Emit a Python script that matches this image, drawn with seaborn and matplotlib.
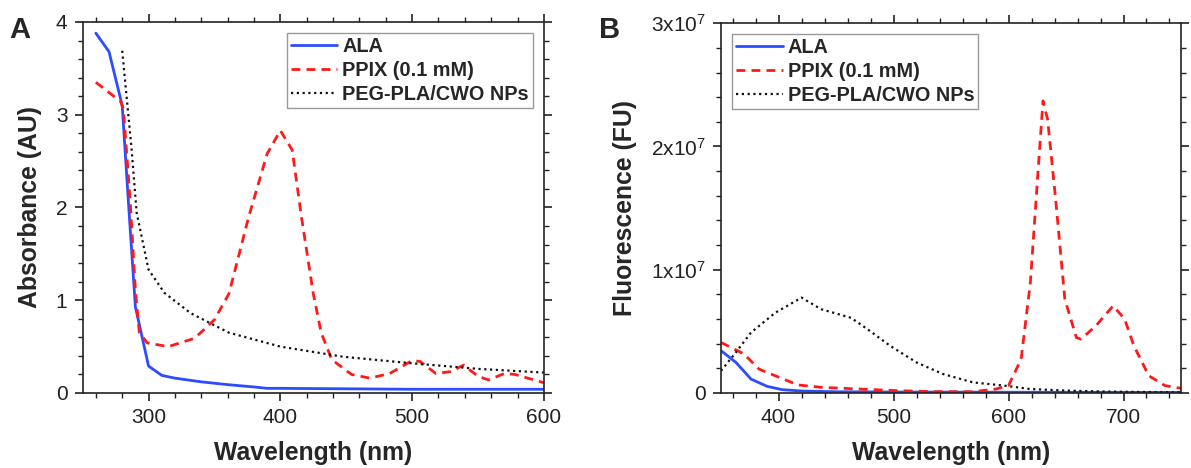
import numpy as np
import pandas as pd
import matplotlib
matplotlib.use("Agg")
import matplotlib.pyplot as plt
import seaborn as sns
from matplotlib.ticker import MultipleLocator, FuncFormatter

# ---------------- Data: Panel A (Absorbance) ----------------
a_ala_x = [260, 270, 280, 285, 290, 300, 310, 320, 340, 360, 380, 390, 400, 450, 500, 550, 600]
a_ala_y = [3.88, 3.68, 3.10, 2.00, 0.93, 0.29, 0.19, 0.16, 0.12, 0.09, 0.065, 0.05, 0.05, 0.045, 0.04, 0.04, 0.04]

a_ppix_x = [260, 279, 281, 286, 290, 293, 299, 315, 335, 350, 361, 376, 390, 400, 409, 416, 425, 431,
            439, 454, 468, 483, 500, 506, 518, 529, 539, 550, 558, 570, 578, 600]
a_ppix_y = [3.35, 3.14, 3.05, 2.08, 1.11, 0.65, 0.54, 0.50, 0.59, 0.79, 1.07, 1.90, 2.58, 2.83, 2.62, 1.90,
            1.07, 0.65, 0.36, 0.20, 0.16, 0.21, 0.35, 0.34, 0.21, 0.23, 0.30, 0.18, 0.14, 0.21, 0.20, 0.11]

a_peg_x = [280, 287, 291, 300, 312, 332, 361, 400, 448, 500, 550, 600]
a_peg_y = [3.69, 2.65, 1.94, 1.33, 1.08, 0.86, 0.65, 0.50, 0.39, 0.32, 0.26, 0.22]

# ---------------- Data: Panel B (Fluorescence) ----------------
b_ala_x = [350, 363, 376, 390, 403, 420, 450, 500, 600, 700, 750]
b_ala_y = [3.43e6, 2.48e6, 1.13e6, 0.54e6, 0.27e6, 0.16e6, 0.10e6, 0.08e6, 0.06e6, 0.05e6, 0.05e6]

b_ppix_x = [350, 370, 383, 397, 417, 437, 470, 503, 536, 569, 589, 600, 611, 619, 626, 630, 634, 641,
            649, 659, 663, 676, 691, 701, 709, 722, 736, 750]
b_ppix_y = [4.1e6, 3.16e6, 1.94e6, 1.4e6, 0.65e6, 0.46e6, 0.32e6, 0.19e6, 0.11e6, 0.10e6, 0.32e6, 0.6e6,
            2.75e6, 8.96e6, 18.4e6, 23.7e6, 22.2e6, 15.7e6, 7.6e6, 4.5e6, 4.37e6, 5.45e6, 7.07e6, 6.0e6,
            3.83e6, 1.4e6, 0.6e6, 0.38e6]

b_peg_x = [350, 363, 376, 397, 420, 437, 463, 477, 497, 520, 543, 569, 596, 619, 652, 685, 750]
b_peg_y = [1.8e6, 3.3e6, 4.9e6, 6.5e6, 7.74e6, 6.8e6, 6.1e6, 5.2e6, 3.83e6, 2.48e6, 1.54e6, 0.86e6,
           0.6e6, 0.32e6, 0.19e6, 0.11e6, 0.05e6]

labels = ["ALA", "PPIX (0.1 mM)", "PEG-PLA/CWO NPs"]

# ---------------- Style ----------------
sns.set_style("ticks")
plt.rcParams["font.family"] = ["Liberation Sans", "DejaVu Sans"]
plt.rcParams["mathtext.fontset"] = "custom"
plt.rcParams["mathtext.rm"] = "Liberation Sans"
plt.rcParams["mathtext.it"] = "Liberation Sans"
plt.rcParams["mathtext.default"] = "regular"

BLUE = "#2b4cff"
RED = "#ff1a1a"
BLACK = "#111111"

fig = plt.figure(figsize=(11.91, 4.68), dpi=100)
axA = fig.add_axes([0.0694, 0.1603, 0.3873, 0.7927])
axB = fig.add_axes([0.6054, 0.1603, 0.3862, 0.7900])


def draw(ax, xs, ys):
    styles = [
        dict(color=BLUE, linestyle="-", linewidth=2.0),
        dict(color=RED, linestyle=(0, (3.2, 2.2)), linewidth=2.0),
        dict(color=BLACK, linestyle=(0, (1, 1.6)), linewidth=1.6),
    ]
    for x, y, lab, st in zip(xs, ys, labels, styles):
        df = pd.DataFrame({"x": x, "y": y})
        sns.lineplot(data=df, x="x", y="y", ax=ax, label=lab, sort=False, **st)


def style_axes(ax):
    for s in ax.spines.values():
        s.set_linewidth(1.2)
        s.set_color("#222222")
        s.set_visible(True)
    ax.tick_params(which="both", direction="out", top=True, right=True,
                   labeltop=False, labelright=False, colors="#222222")
    ax.tick_params(which="major", length=6, width=1.2, labelsize=15, pad=5)
    ax.tick_params(which="minor", length=3.5, width=1.0)
    ax.xaxis.set_minor_locator(MultipleLocator(20))


draw(axA, [a_ala_x, a_ppix_x, a_peg_x], [a_ala_y, a_ppix_y, a_peg_y])
draw(axB, [b_ala_x, b_ppix_x, b_peg_x], [b_ala_y, b_ppix_y, b_peg_y])

# Panel A axes
axA.set_xlim(250, 600)
axA.set_ylim(0, 4)
axA.xaxis.set_major_locator(MultipleLocator(100))
axA.yaxis.set_major_locator(MultipleLocator(1))
axA.yaxis.set_minor_locator(MultipleLocator(0.2))
style_axes(axA)
axA.set_xlabel("Wavelength (nm)", fontsize=17.8, fontweight="bold", labelpad=10)
axA.set_ylabel("Absorbance (AU)", fontsize=17.8, fontweight="bold", labelpad=10)

# Panel B axes
axB.set_xlim(350, 750)
axB.set_ylim(0, 3e7)
axB.xaxis.set_major_locator(MultipleLocator(100))
axB.yaxis.set_major_locator(MultipleLocator(1e7))
axB.yaxis.set_minor_locator(MultipleLocator(2e6))


def sci(v, pos):
    if abs(v) < 1:
        return "0"
    m = int(round(v / 1e7))
    return r"%dx10$^{7}$" % m


axB.yaxis.set_major_formatter(FuncFormatter(sci))
style_axes(axB)
axB.set_xlabel("Wavelength (nm)", fontsize=17.8, fontweight="bold", labelpad=10)
axB.set_ylabel("Fluorescence (FU)", fontsize=17.8, fontweight="bold", labelpad=10)

for ax, loc in [(axA, "upper right"), (axB, "upper left")]:
    leg = ax.legend(loc=loc, frameon=True, fancybox=False, framealpha=1,
                    edgecolor="#999999", handlelength=2.35, handletextpad=0.25,
                    borderpad=0.2, labelspacing=0.25, borderaxespad=0.55,
                    prop={"weight": "bold", "size": 14.3})
    leg.get_frame().set_linewidth(1.0)

fig.text(0.008, 0.935, "A", fontsize=21, fontweight="bold", va="center", ha="left")
fig.text(0.503, 0.935, "B", fontsize=21, fontweight="bold", va="center", ha="left")

fig.savefig("out.png", dpi=100)
